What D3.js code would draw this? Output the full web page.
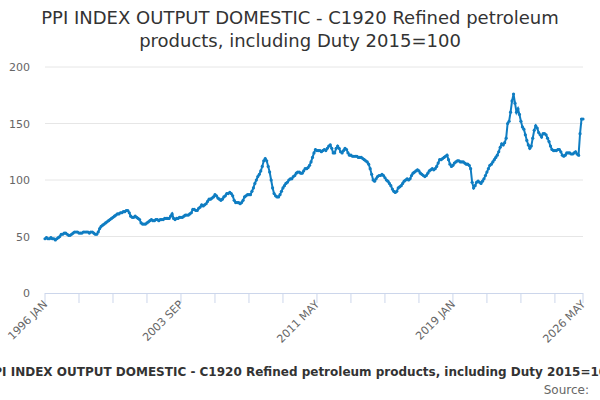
<!DOCTYPE html>
<html><head><meta charset="utf-8">
<script src="https://cdn.jsdelivr.net/npm/d3@7"></script>
<style>body{margin:0;background:#fff;font-family:"DejaVu Sans",sans-serif;}</style>
</head><body><svg id="c" width="600" height="400"></svg>
<script>
const startYear = 1996;
const values = [
48,49,48,48,49,48,48,47,48,49,50,52,
52,53,53,52,51,51,52,53,54,54,54,53,
53,53,54,54,54,54,53,54,54,53,52,52,
54,57,59,60,61,62,63,64,65,66,67,68,
69,70,70,71,71,72,72,73,73,71,68,67,
67,68,67,66,65,62,61,61,61,62,63,64,
65,64,64,65,65,64,65,65,65,66,66,66,
66,68,70,66,65,66,66,67,67,67,68,69,
69,69,70,71,74,74,73,73,75,76,78,77,
78,79,81,83,83,84,85,87,86,84,83,82,
83,85,86,88,88,89,88,86,82,80,80,80,
79,80,82,85,86,87,87,87,90,93,97,100,
103,105,108,112,117,119,117,112,107,100,93,88,
86,85,85,87,90,93,95,97,98,100,101,101,
103,104,106,107,107,106,106,108,110,110,111,113,
116,120,124,127,126,126,126,125,126,127,126,128,
130,131,128,124,124,128,130,128,125,124,126,128,
127,124,122,122,121,121,121,121,120,120,120,119,
118,117,116,114,110,105,100,99,101,103,104,104,
105,104,102,100,99,97,95,92,90,89,90,93,
94,95,97,99,100,101,100,101,104,106,107,108,
109,108,106,105,104,103,104,106,108,109,110,109,
110,112,115,118,118,119,120,121,122,118,114,112,
113,115,116,117,117,116,116,116,115,114,114,113,
110,98,93,95,98,99,98,97,99,101,104,107,
110,113,114,116,118,120,122,125,129,132,131,133,
137,150,152,160,170,176,168,160,163,158,152,147,
145,140,135,131,128,130,137,144,148,146,142,140,
138,141,141,140,137,134,130,127,126,126,126,127,
127,125,122,121,122,124,124,124,123,123,124,125,
123,122,141,154,154];
const months = ["JAN","FEB","MAR","APR","MAY","JUN","JUL","AUG","SEP","OCT","NOV","DEC"];
const labels = values.map((v,i)=>(startYear+Math.floor(i/12))+" "+months[i%12]);
const yTicks = [0,50,100,150,200];
const majorLabels = ["1996 JAN","2003 SEP","2011 MAY","2019 JAN","2026 MAY"];

const svg = d3.select("#c");
const x = d3.scalePoint().domain(labels).range([45,583]);
const y = d3.scaleLinear().domain([0,200]).range([293,67]);

svg.append("g").selectAll("line").data(yTicks.filter(t=>t>0)).join("line")
 .attr("x1",45).attr("x2",583).attr("y1",d=>y(d)).attr("y2",d=>y(d))
 .attr("stroke","#e6e6e6");
svg.append("g").selectAll("text").data(yTicks).join("text")
 .attr("x",30).attr("y",d=>y(d)+4).attr("text-anchor","end")
 .attr("font-size",11).attr("fill","#666").text(d=>d);

svg.append("line").attr("x1",45).attr("x2",583).attr("y1",293.5).attr("y2",293.5).attr("stroke","#ccd6eb");
const tickIdx = [];
for(let i=0;i<labels.length;i+=23) tickIdx.push(i);
tickIdx.push(labels.length-1);
svg.append("g").selectAll("line").data(tickIdx).join("line")
 .attr("x1",d=>x(labels[d])).attr("x2",d=>x(labels[d])).attr("y1",293).attr("y2",303)
 .attr("stroke","#ccd6eb");
svg.append("g").selectAll("text").data(majorLabels).join("text")
 .attr("transform",d=>`translate(${x(d)+3},${305}) rotate(-45)`)
 .attr("text-anchor","end").attr("font-size",11).attr("fill","#666").text(d=>d);

const line = d3.line().x((d,i)=>x(labels[i])).y(d=>y(d));
svg.append("path").datum(values).attr("d",line).attr("fill","none")
 .attr("stroke","#0f7dc2").attr("stroke-width",2);
svg.append("g").selectAll("circle").data(values).join("circle")
 .attr("cx",(d,i)=>x(labels[i])).attr("cy",d=>y(d)).attr("r",1.6).attr("fill","#0f7dc2");

svg.append("text").attr("x",300).attr("y",24).attr("text-anchor","middle").attr("font-size",18).attr("fill","#333")
 .text("PPI INDEX OUTPUT DOMESTIC - C1920 Refined petroleum");
svg.append("text").attr("x",300).attr("y",47).attr("text-anchor","middle").attr("font-size",18).attr("fill","#333")
 .text("products, including Duty 2015=100");
svg.append("text").attr("x",300).attr("y",376).attr("text-anchor","middle").attr("font-size",12).attr("font-weight","bold").attr("fill","#333")
 .text("PPI INDEX OUTPUT DOMESTIC - C1920 Refined petroleum products, including Duty 2015=100");
svg.append("text").attr("x",589).attr("y",394).attr("text-anchor","end").attr("font-size",12).attr("fill","#666").text("Source:");
</script></body></html>
